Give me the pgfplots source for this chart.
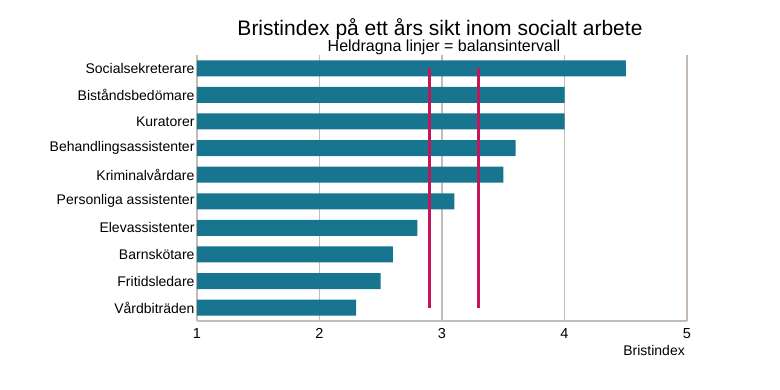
\documentclass[border=0pt]{standalone}
\usepackage{fontspec}
\setmainfont{Liberation Sans}
\usepackage{pgfplots}
\pgfplotsset{compat=1.18}
\definecolor{barc}{HTML}{17758F}
\definecolor{redc}{HTML}{C2185B}
\definecolor{gridc}{HTML}{C4BCB4}
\begin{document}
\begin{tikzpicture}[x=1pt,y=1pt]
\path (0,0) rectangle (780,390);
\begin{axis}[
  at={(197pt,69pt)}, anchor=south west,
  scale only axis, width=490pt, height=266pt,
  xmin=1, xmax=5, ymin=-0.5, ymax=9.5,
  y dir=reverse,
  xtick={1,2,3,4,5},
  ytick={0,...,9},
  yticklabels={Socialsekreterare,Biståndsbedömare,Kuratorer,Behandlingsassistenter,Kriminalvårdare,Personliga assistenter,Elevassistenter,Barnskötare,Fritidsledare,Vårdbiträden},
  major tick length=0pt,
  /pgf/number format/assume math mode=true,
  x tick label style={font=\fontsize{14.5}{16}\selectfont, yshift=-4pt},
  y tick label style={font=\fontsize{14}{16}\selectfont, xshift=1pt},
  axis x line*=bottom, axis y line*=left,
  y axis line style={draw=none},
  x axis line style={-, draw=gridc, line width=1.2pt},
  xmajorgrids, grid style={gridc, line width=1.2pt},
  clip=false,
]
\addplot[xbar, bar width=16pt, fill=barc, draw=none] coordinates {
  (4.5,0) (4.0,1) (4.0,2) (3.6,3) (3.5,4) (3.1,5) (2.8,6) (2.6,7) (2.5,8) (2.3,9)
};
\addplot[redc, line width=2.6pt] coordinates {(2.9,0) (2.9,9)};
\addplot[redc, line width=2.6pt] coordinates {(3.3,0) (3.3,9)};
\node[anchor=base, inner sep=0pt, font=\fontsize{21}{23}\selectfont] at ([yshift=19pt, xshift=-2pt]rel axis cs:0.5,1) {Bristindex på ett års sikt inom socialt arbete};
\node[anchor=base, inner sep=0pt, font=\fontsize{16}{18}\selectfont] at ([yshift=3pt, xshift=2pt]rel axis cs:0.5,1) {Heldragna linjer = balansintervall};
\node[anchor=base east, inner sep=0pt, font=\fontsize{14}{16}\selectfont] at ([yshift=-35pt, xshift=-2pt]rel axis cs:1,0) {Bristindex};
\end{axis}
\end{tikzpicture}
\end{document}
